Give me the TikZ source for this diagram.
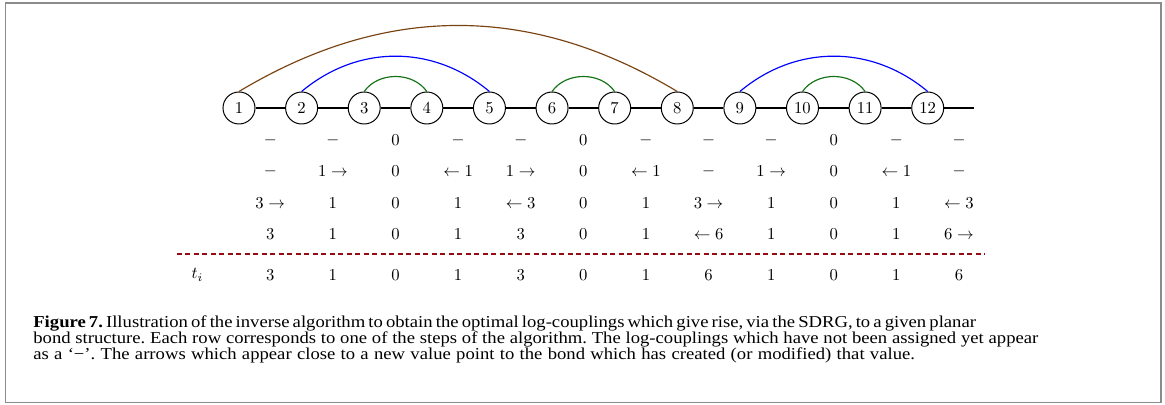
\documentclass[tikz,border=0pt]{standalone}
\usepackage{fontspec}
\newfontfamily\capfont[FakeStretch=1.12]{Liberation Serif}
\definecolor{arcbrown}{RGB}{122,68,18}
\definecolor{arcgreen}{RGB}{20,115,20}
\definecolor{dashred}{RGB}{150,10,20}
\begin{document}
\frenchspacing
\begin{tikzpicture}[x=0.6pt,y=0.6pt,
  site/.style={circle,draw,line width=0.6pt,minimum size=19.2pt,inner sep=0pt},
  bond/.style={line width=0.7pt},
  val/.style={inner sep=0pt,anchor=center},
  frame/.style={draw=black!45,line width=1.1pt},
  arcb/.style={line width=0.7pt,draw=arcbrown},
  arcl/.style={line width=0.7pt,draw=blue},
  arcg/.style={line width=0.7pt,draw=arcgreen},
  sep/.style={draw=dashred,line width=0.75pt,dash pattern=on 3.1pt off 2pt},
  capline/.style={anchor=base west,inner sep=0pt,font=\capfont\fontsize{10}{9.4}\selectfont}]
\useasboundingbox (0,0) rectangle (1165,-405);
\draw[frame] (5.5,-3.3) rectangle (1161,-402.5);
% sites
\foreach \k in {1,...,12}
  \node[site] (n\k) at ({239+62.61*(\k-1)},-108) {$\k$};
\coordinate (tail) at (974,-108);
\foreach \a/\b in {1/2,2/3,3/4,4/5,5/6,6/7,7/8,8/9,9/10,10/11,11/12}
  \draw[bond] (n\a) -- (n\b);
\draw[bond] (n12) -- (tail);
% arcs
\draw[arcb] (n1.north) to[out=31,in=149] (n8.north);
\draw[arcl] (n2.north) to[out=40,in=140] (n5.north);
\draw[arcl] (n9.north) to[out=40,in=140] (n12.north);
\draw[arcg] (n3.north) to[out=55,in=125] (n4.north);
\draw[arcg] (n6.north) to[out=55,in=125] (n7.north);
\draw[arcg] (n10.north) to[out=55,in=125] (n11.north);
% rows
\foreach \v [count=\c] in {-,-,0,-,-,0,-,-,-,0,-,-}
  \node[val] (ra\c) at ({270.3+62.61*(\c-1)},-140) {$\v$};
\foreach \v [count=\c] in {-,1\rightarrow,0,\leftarrow 1,1\rightarrow,0,\leftarrow 1,-,1\rightarrow,0,\leftarrow 1,-}
  \node[val] (rb\c) at ({270.3+62.61*(\c-1)},-171.5) {$\v$};
\foreach \v [count=\c] in {3\rightarrow,1,0,1,\leftarrow 3,0,1,3\rightarrow,1,0,1,\leftarrow 3}
  \node[val] (rc\c) at ({270.3+62.61*(\c-1)},-202.9) {$\v$};
\foreach \v [count=\c] in {3,1,0,1,3,0,1,\leftarrow 6,1,0,1,6\rightarrow}
  \node[val] (rd\c) at ({270.3+62.61*(\c-1)},-234.3) {$\v$};
\coordinate (dl) at (176.7,-254);
\coordinate (dr) at (985,-254);
\draw[sep] (dl) -- (dr);
\node[val] (tlab) at (197.3,-275) {$t_i$};
\foreach \v [count=\c] in {3,1,0,1,3,0,1,6,1,0,1,6}
  \node[val] (rt\c) at ({270.3+62.61*(\c-1)},-275) {$\v$};
% caption
\node[capline] (cap1) at (33,-327.7) {\makebox[513pt][s]{\textbf{Figure 7.} Illustration of the inverse algorithm to obtain the optimal log-couplings which give rise, via the SDRG, to a given planar}};
\node[capline] (cap2) at (33,-343.4) {\makebox[603pt][s]{bond structure. Each row corresponds to one of the steps of the algorithm. The log-couplings which have not been assigned yet appear}};
\node[capline] (cap3) at (33,-359.1) {\makebox[529pt][s]{as a ‘−’. The arrows which appear close to a new value point to the bond which has created (or modified) that value.}};
\end{tikzpicture}
\end{document}
